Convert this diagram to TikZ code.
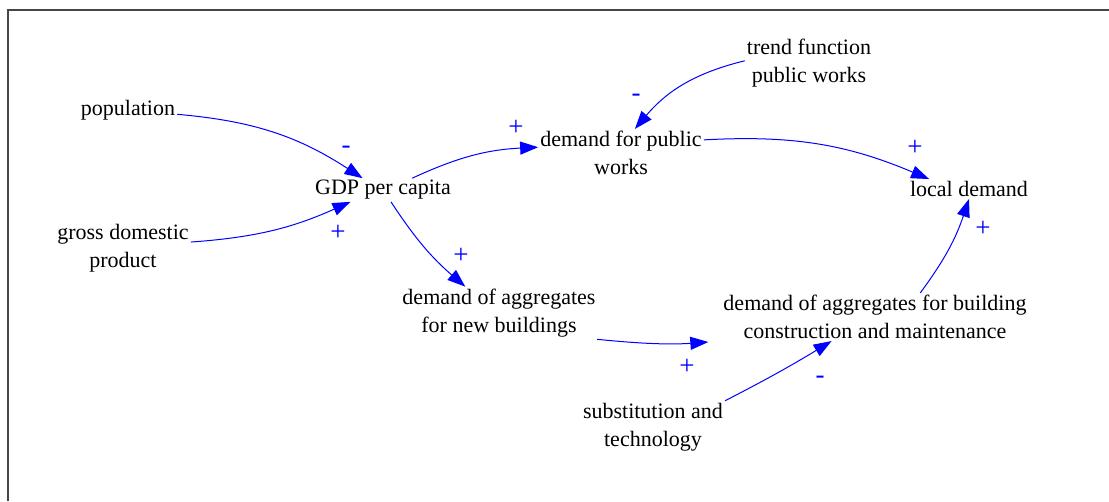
\documentclass[tikz,border=0pt]{standalone}
\usepackage{fontspec}
\setmainfont{Liberation Serif}
\usepackage{xcolor}
\usepackage{tikz}
\usetikzlibrary{arrows.meta}
\definecolor{cldblue}{RGB}{0,0,255}
\definecolor{framegray}{RGB}{70,70,70}

\begin{document}
\begin{tikzpicture}[x=1pt,y=1pt,font=\fontsize{22}{28}\selectfont,
  var/.style={align=center,inner sep=2pt},
  sgn/.style={text=cldblue,inner sep=0pt,font=\fontsize{27}{30}\selectfont},
  link/.style={draw=cldblue,line width=1pt,-{Triangle[length=18pt,width=13pt]}}]
\useasboundingbox (0,0) rectangle (1109,501);
% frame
\draw[framegray,line width=2.5pt] (8,0) -- (8,491) -- (1109,491);

% variables
\node[var] (pop) at (128,391) {population};
\node[var] (gross) at (123,253) {gross domestic\\product};
\node[var] (gdp) at (383,311) {GDP per capita};
\node[var] (pubw) at (621,348) {demand for public\\works};
\node[var] (trend) at (809,438) {trend function\\public works};
\node[var] (local) at (969,312) {local demand};
\node[var] (aggnew) at (499,188) {demand of aggregates\\for new buildings};
\node[var] (aggbld) at (875,184) {demand of aggregates for building\\construction and maintenance};
\node[var] (subst) at (653,74) {substitution and\\technology};

% links
\draw[link] (pop.-5) to[bend left=14] (gdp.150);
\draw[link] (gross.5) to[bend right=10] (gdp.200);
\draw[link] (gdp.22) to[bend left=11] (pubw.176);
\draw[link] (trend.178) to[bend right=18] (pubw.60);
\draw[link] (pubw.9) to[bend left=13] (local.166);
\draw[link] (gdp.-56) to[bend right=8] (aggnew.142);
\draw[link,shorten >=13pt] (aggnew.-15) to[bend right=5] (aggbld.south west);
\draw[link] (subst.20) to[bend right=2] (aggbld.209);
\draw[link] (aggbld.28) to[bend right=9] (local.-90);

% polarities
\node[sgn] (s1) at (346,351) {-};
\node[sgn] (s2) at (338,268) {+};
\node[sgn] (s3) at (516,373) {+};
\node[sgn] (s4) at (636,403) {-};
\node[sgn] (s5) at (915,353) {+};
\node[sgn] (s6) at (461,245) {+};
\node[sgn] (s7) at (687,134) {+};
\node[sgn] (s8) at (820,121) {-};
\node[sgn] (s9) at (983,272) {+};
\end{tikzpicture}
\end{document}
